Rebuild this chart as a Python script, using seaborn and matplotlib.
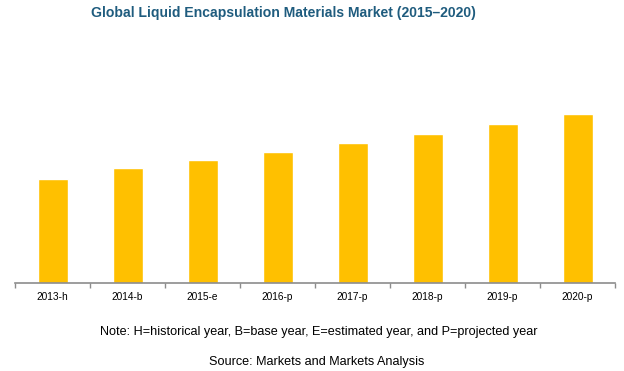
import matplotlib
matplotlib.use("Agg")
import matplotlib.pyplot as plt
import seaborn as sns
import pandas as pd
from matplotlib.ticker import FixedLocator

# bar heights (no y scale is shown, so relative units)
years = ["2013-h", "2014-b", "2015-e", "2016-p", "2017-p", "2018-p", "2019-p", "2020-p"]
values = [103.7, 115.0, 122.4, 130.4, 139.4, 148.7, 158.4, 168.4]

df = pd.DataFrame({"year": years, "value": values})

sns.set_style("white")
plt.rcParams["font.family"] = ["Liberation Sans", "DejaVu Sans"]

fig = plt.figure(figsize=(6.24, 3.71), dpi=100)
ax = fig.add_axes([15 / 624, 88.3 / 371, 600 / 624, 222.7 / 371])

sns.barplot(data=df, x="year", y="value", color="#FFC000", width=0.4,
            saturation=1, ax=ax)

ax.set_xlim(-0.5, len(years) - 0.5)
ax.set_ylim(0, 222.7)
ax.set_xlabel("")
ax.set_ylabel("")
ax.set_yticks([])

for s in ["top", "right", "left"]:
    ax.spines[s].set_visible(False)
ax.spines["bottom"].set_color("#8c8c8c")
ax.spines["bottom"].set_linewidth(1.2)

ax.tick_params(axis="x", which="major", length=0, pad=7, labelsize=7.3,
               labelcolor="black")
ax.xaxis.set_minor_locator(FixedLocator([i - 0.5 for i in range(len(years) + 1)]))
ax.tick_params(axis="x", which="minor", length=3.5, width=1, color="#8c8c8c",
               direction="out", bottom=True)

fig.text(283 / 624, 1 - 13 / 371, "Global Liquid Encapsulation Materials Market (2015\u20132020)",
         ha="center", va="center", fontsize=10.1, fontweight="bold", color="#1F5C7E")
fig.text(319 / 624, 1 - 332 / 371,
         "Note: H=historical year, B=base year, E=estimated year, and P=projected year",
         ha="center", va="center", fontsize=9.1, color="black")
fig.text(317 / 624, 1 - 362 / 371, "Source: Markets and Markets Analysis",
         ha="center", va="center", fontsize=9.1, color="black")

fig.savefig("out.png", dpi=100)
